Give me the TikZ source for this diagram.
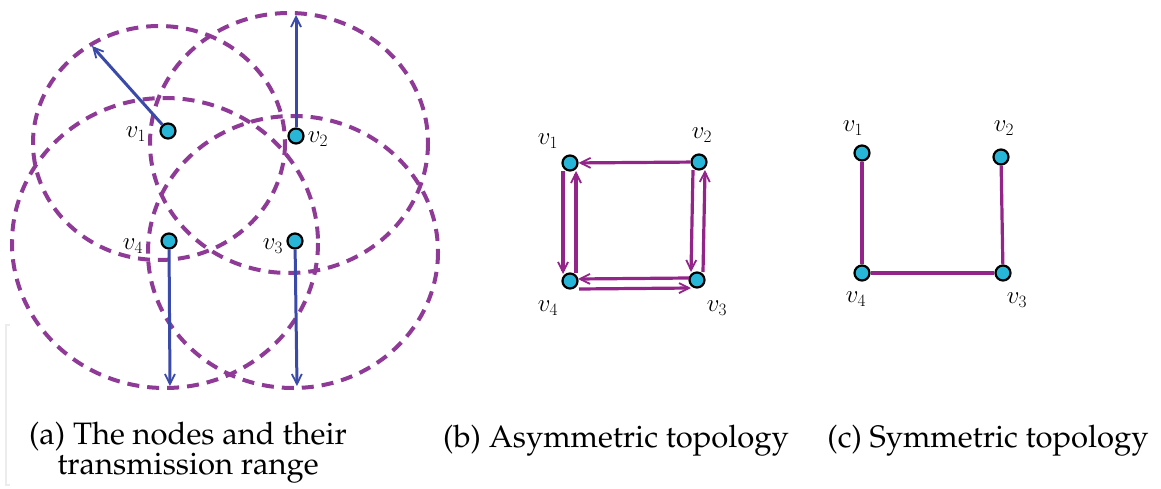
\documentclass[tikz,border=0pt]{standalone}
\usepackage[T1]{fontenc}
\renewcommand\rmdefault{ppl}
\usetikzlibrary{arrows.meta}
\definecolor{nodecyan}{RGB}{40,182,216}
\definecolor{rangepurple}{RGB}{142,58,150}
\definecolor{edgepurple}{RGB}{146,36,138}
\definecolor{radblue}{RGB}{58,74,168}
\tikzset{
  pt/.style={circle, fill=nodecyan, draw=black, line width=2.2pt, minimum size=15pt, inner sep=0pt},
  rangecirc/.style={draw=rangepurple, line width=4pt, dash pattern=on 12pt off 8pt},
  rad/.style={draw=radblue, line width=3pt, -{Straight Barb[length=10pt,width=10pt,line width=1.8pt]}},
  link/.style={draw=edgepurple, line width=3.2pt},
  dirlink/.style={link, -{Straight Barb[length=10pt,width=10pt,line width=1.8pt]}},
  lab/.style={inner sep=0pt, font=\fontsize{27}{30}\selectfont},
  captext/.style={inner sep=0pt, font=\fontsize{31}{30}\selectfont, align=center},
}
\begin{document}
\begin{tikzpicture}[x=1pt,y=-1pt]
\useasboundingbox (0,0) rectangle (1161,489);
% faint frame remnant
\draw[gray!15, line width=1.5pt] (10,325) -- (6,325) -- (6,485) -- (10,485);
% (a) ranges
\draw[rangecirc] (159,143) ellipse [x radius=126, y radius=117];
\draw[rangecirc] (289,143) ellipse [x radius=139, y radius=130];
\draw[rangecirc] (293,252) ellipse [x radius=145, y radius=136];
\draw[rangecirc] (165,243) ellipse [x radius=153, y radius=145];
% (a) nodes
\node[pt] (a1) at (168,131) {};
\node[pt] (a2) at (296,136) {};
\node[pt] (a3) at (295,241) {};
\node[pt] (a4) at (169,241) {};
\coordinate (r1) at (92,46);
\coordinate (r2) at (296,15);
\coordinate (r3) at (297,386);
\coordinate (r4) at (170,386);
\draw[rad] (a1) -- (r1);
\draw[rad] (a2) -- (r2);
\draw[rad] (a3) -- (r3);
\draw[rad] (a4) -- (r4);
\node[lab] (la1) at (136,134) {$v_1$};
\node[lab] (la2) at (318,139) {$v_2$};
\node[lab] (la3) at (273,246) {$v_3$};
\node[lab] (la4) at (133,246) {$v_4$};
% (b)  (yshift is in page direction: positive = up)
\node[pt] (b1) at (570,163) {};
\node[pt] (b2) at (699,162) {};
\node[pt] (b3) at (697,280) {};
\node[pt] (b4) at (570,281) {};
\draw[dirlink] (b2) -- (b1);
\draw[dirlink] ([xshift=-7pt,yshift=-8pt]b1.center) -- ([xshift=-7pt,yshift=7pt]b4.center);
\draw[dirlink] ([xshift=6pt,yshift=8pt]b4.center) -- ([xshift=6pt,yshift=-8pt]b1.center);
\draw[dirlink] ([xshift=-6pt,yshift=-8pt]b2.center) -- ([xshift=-6pt,yshift=8pt]b3.center);
\draw[dirlink] ([xshift=6pt,yshift=8pt]b3.center) -- ([xshift=6pt,yshift=-8pt]b2.center);
\draw[dirlink] ([xshift=-8pt,yshift=2pt]b3.center) -- ([xshift=8pt,yshift=2pt]b4.center);
\draw[dirlink] ([xshift=9pt,yshift=-8pt]b4.center) -- ([xshift=-6pt,yshift=-8pt]b3.center);
\node[lab] (lb1) at (548,141) {$v_1$};
\node[lab] (lb2) at (702,135) {$v_2$};
\node[lab] (lb3) at (717,308) {$v_3$};
\node[lab] (lb4) at (548,308) {$v_4$};
% (c)
\node[pt] (c1) at (862,153) {};
\node[pt] (c2) at (1001,157) {};
\node[pt] (c3) at (1003,273) {};
\node[pt] (c4) at (862,273) {};
\draw[link] (c1) -- (c4);
\draw[link] (c2) -- (c3);
\draw[link] (c4) -- (c3);
\node[lab] (lc1) at (853,128) {$v_1$};
\node[lab] (lc2) at (1004,128) {$v_2$};
\node[lab] (lc3) at (1017,300) {$v_3$};
\node[lab] (lc4) at (856,299) {$v_4$};
% captions
\node[captext] (capa) at (188,453) {(a) The nodes and their\\transmission range};
\node[captext, anchor=base] (capb) at (616,447) {(b) Asymmetric topology};
\node[captext, anchor=base] (capc) at (988,447) {(c) Symmetric topology};
\end{tikzpicture}
\end{document}
